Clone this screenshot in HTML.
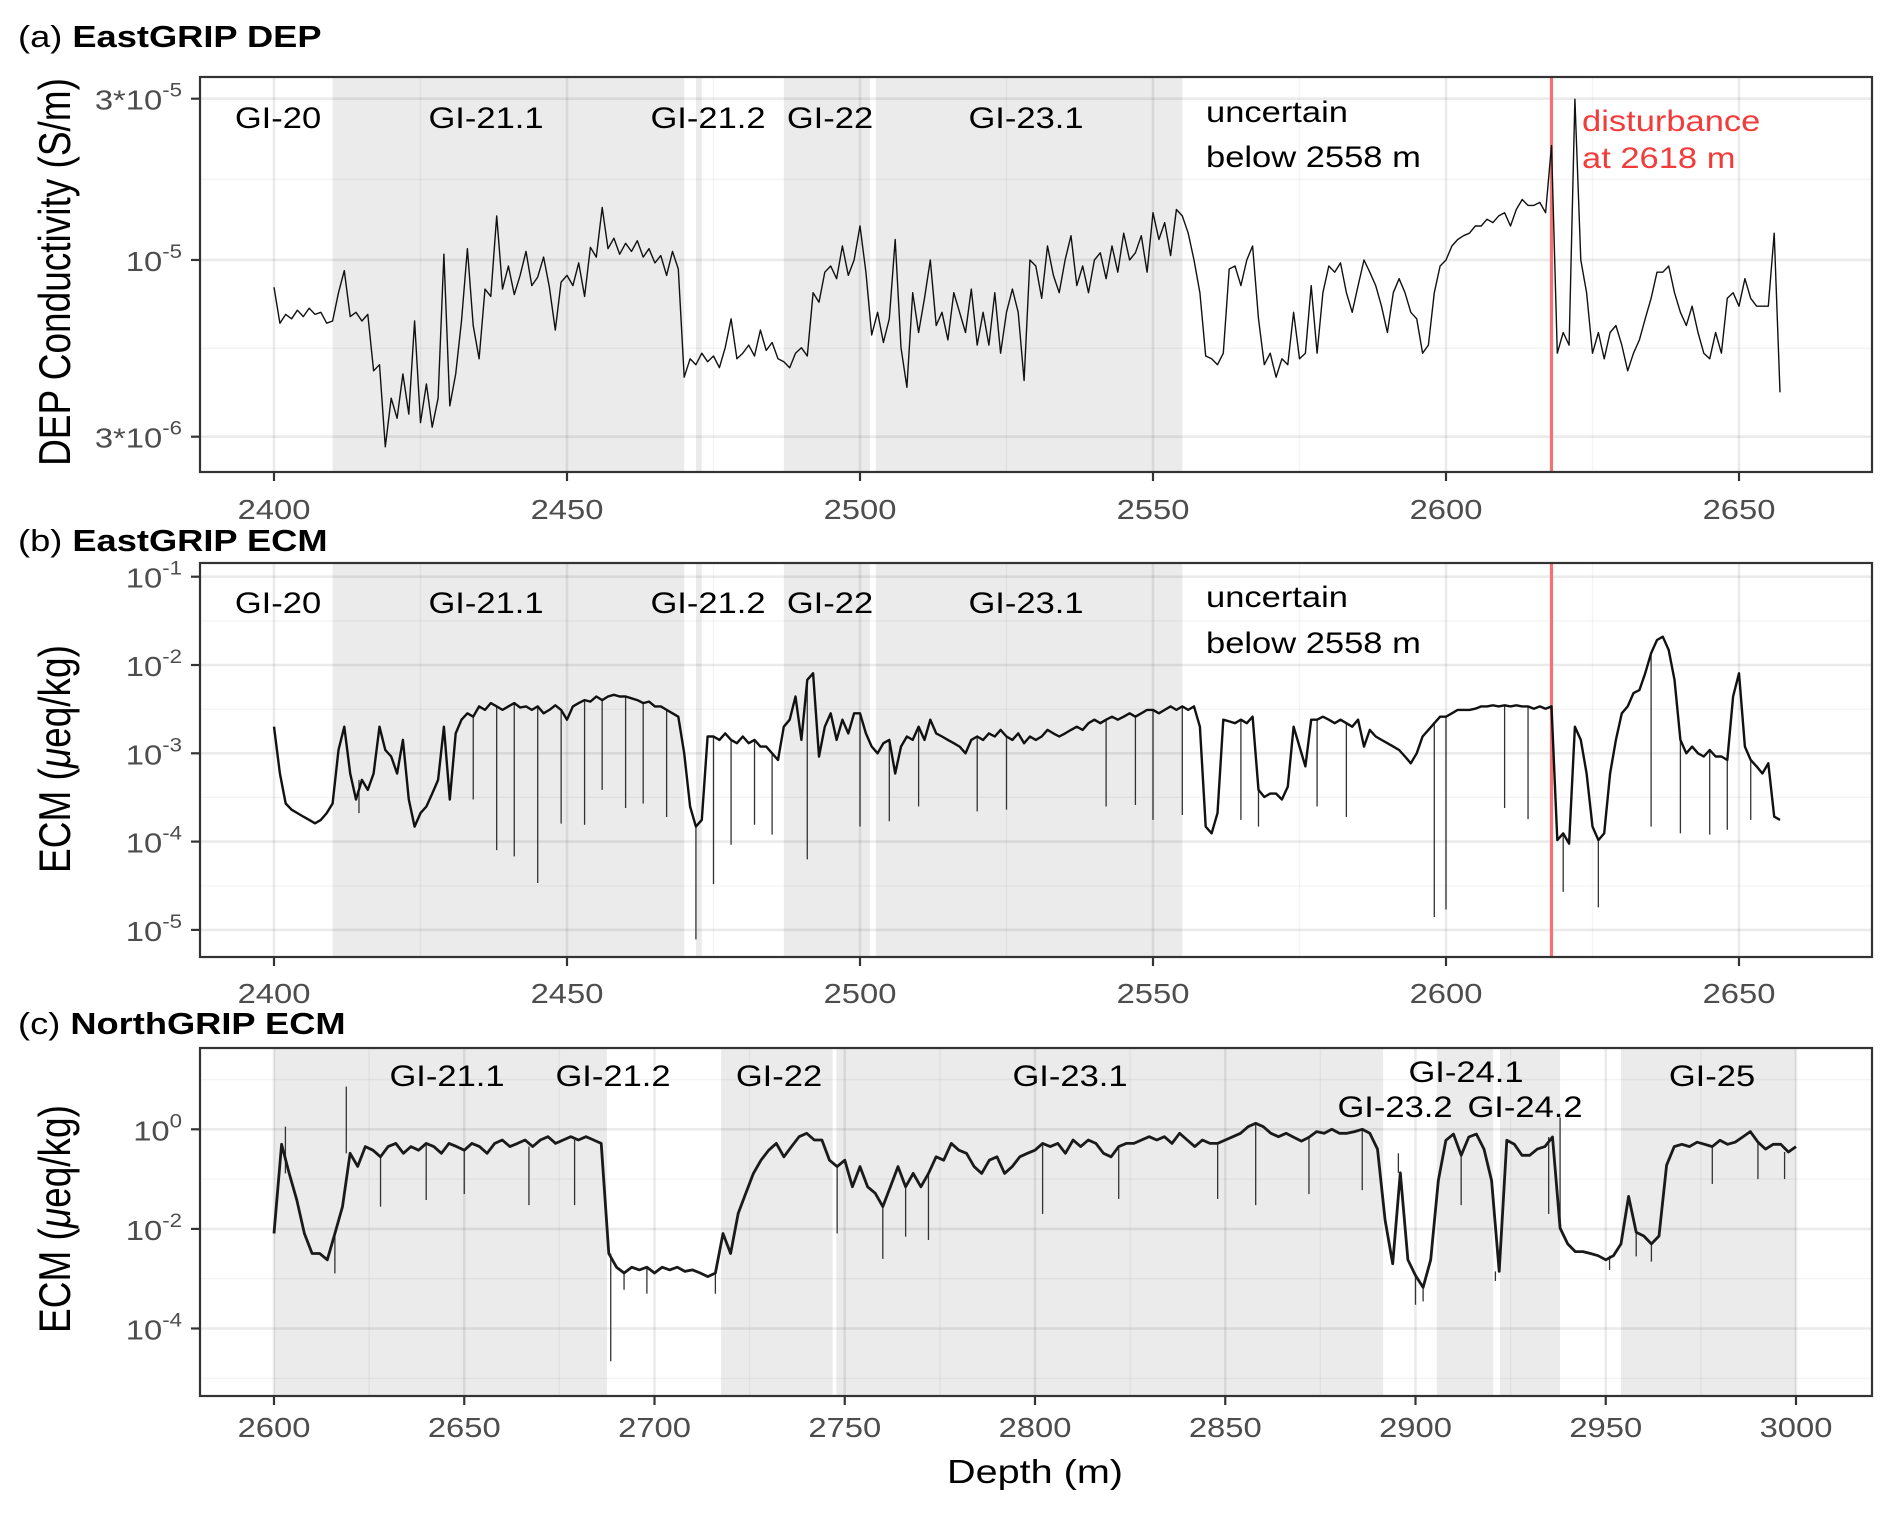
<!DOCTYPE html>
<html><head><meta charset="utf-8">
<style>
html,body{margin:0;padding:0;background:#fff;}
svg{display:block;font-family:"Liberation Sans",Arial,sans-serif;}
</style></head>
<body>
<svg id="fig" width="1892" height="1513" viewBox="0 0 1892 1513" xmlns="http://www.w3.org/2000/svg"></svg>
<script>
// ---------------- DATA ----------------
// Panel (a) EastGRIP DEP conductivity, units 1e-6 S/m, 1 m steps from 2400 m
const depStart = 2400;
const depStep = 1;
const depValues = [
8.3,6.5,6.9,6.7,7.1,6.8,7.2,6.9,7.0,6.5,
6.6,8.0,9.3,6.8,7.0,6.6,6.9,4.7,4.9,2.8,
3.9,3.4,4.6,3.5,6.6,3.3,4.3,3.2,3.9,10.4,
3.7,4.6,6.6,10.8,6.4,5.1,8.2,7.8,13.5,8.2,
9.6,7.9,9.0,10.6,8.4,8.9,10.2,8.3,6.2,8.6,
9.0,8.4,9.8,7.8,10.9,10.2,14.3,10.8,11.6,10.4,
11.2,10.6,11.4,10.2,10.8,9.8,10.3,9.0,10.6,9.4,
4.5,5.1,4.9,5.3,5.0,5.2,4.8,5.5,6.7,5.1,
5.3,5.6,5.2,6.2,5.4,5.7,5.1,5.0,4.8,5.3,
5.5,5.2,8.0,7.5,9.2,9.6,8.8,11.0,9.0,10.0,
12.6,9.2,6.0,7.0,5.7,6.7,11.5,5.5,4.2,8.0,
6.1,7.7,10.0,6.4,7.0,5.8,8.0,7.0,6.1,8.2,
5.6,7.0,5.6,8.0,5.3,7.0,8.2,7.0,4.4,10.0,
9.6,7.7,11.0,9.0,8.0,10.0,11.8,8.4,9.6,8.0,
10.0,10.5,8.8,11.0,9.2,12.0,10.0,10.5,11.8,9.2,
13.8,11.5,12.9,10.3,14.1,13.5,12.0,10.0,8.0,5.2,
5.1,4.9,5.3,9.4,9.6,8.4,10.0,11.0,6.7,4.9,
5.3,4.5,5.1,4.9,7.0,5.1,5.3,8.4,5.3,8.0,
9.6,9.2,9.8,8.0,7.0,8.4,10.0,9.2,8.4,7.3,
6.1,8.0,8.8,8.0,7.0,6.7,5.3,5.6,8.0,9.6,
10.0,11.0,11.5,11.8,12.0,12.6,12.6,13.2,12.9,13.5,
13.8,12.6,14.1,15.1,14.5,14.5,14.8,13.8,21.8,5.3,
6.1,5.6,29.9,10.0,8.0,5.3,6.1,5.1,6.1,6.4,
5.6,4.7,5.3,5.8,6.7,7.7,9.2,9.2,9.6,8.0,
7.0,6.4,7.3,6.1,5.3,5.1,6.1,5.3,7.7,8.0,
7.3,8.8,7.7,7.3,7.3,7.3,12.0,4.06
];
// Panel (b) EastGRIP ECM, μeq/kg, 1 m steps from 2400 m
const ecmEStart = 2400;
const ecmEStep = 1;
const ecmEValues = [
2.0e-3,5.9e-4,2.7e-4,2.3e-4,2.1e-4,1.92e-4,1.76e-4,1.61e-4,1.76e-4,2.1e-4,
2.7e-4,1.09e-3,2.0e-3,5.9e-4,3.0e-4,5.0e-4,3.85e-4,5.9e-4,2.0e-3,1.09e-3,
9.2e-4,5.9e-4,1.42e-3,3.0e-4,1.48e-4,2.1e-4,2.5e-4,3.5e-4,5.0e-4,2.0e-3,
3.0e-4,1.68e-3,2.4e-3,2.84e-3,2.6e-3,3.4e-3,3.1e-3,3.7e-3,3.4e-3,3.1e-3,
3.4e-3,3.7e-3,3.3e-3,3.4e-3,3.1e-3,3.4e-3,2.84e-3,3.1e-3,3.5e-3,3.1e-3,
2.4e-3,3.4e-3,3.7e-3,4.0e-3,3.85e-3,4.4e-3,4.0e-3,4.4e-3,4.6e-3,4.4e-3,
4.4e-3,4.2e-3,4.0e-3,3.7e-3,3.85e-3,3.4e-3,3.4e-3,3.1e-3,2.84e-3,2.6e-3,
1.0e-3,2.5e-4,1.48e-4,1.76e-4,1.55e-3,1.55e-3,1.42e-3,1.68e-3,1.42e-3,1.3e-3,
1.55e-3,1.3e-3,1.42e-3,1.19e-3,1.19e-3,1.0e-3,8.4e-4,2.0e-3,2.4e-3,4.4e-3,
1.42e-3,6.8e-3,8.05e-3,9.2e-4,2.0e-3,2.84e-3,1.42e-3,2.4e-3,1.68e-3,2.84e-3,
2.84e-3,1.68e-3,1.19e-3,1.0e-3,1.3e-3,1.42e-3,5.9e-4,1.19e-3,1.55e-3,1.42e-3,
2.0e-3,1.42e-3,2.4e-3,1.68e-3,1.55e-3,1.42e-3,1.3e-3,1.19e-3,1.0e-3,1.42e-3,
1.55e-3,1.42e-3,1.68e-3,1.55e-3,1.84e-3,1.55e-3,1.42e-3,1.68e-3,1.3e-3,1.55e-3,
1.42e-3,1.55e-3,1.84e-3,1.68e-3,1.55e-3,1.68e-3,1.84e-3,2.0e-3,1.84e-3,2.19e-3,
2.4e-3,2.19e-3,2.4e-3,2.6e-3,2.4e-3,2.6e-3,2.84e-3,2.6e-3,2.84e-3,3.1e-3,
3.1e-3,2.84e-3,3.1e-3,3.4e-3,3.1e-3,3.4e-3,3.1e-3,3.4e-3,2.0e-3,1.48e-4,
1.24e-4,2.1e-4,2.4e-3,2.3e-3,2.19e-3,2.4e-3,2.19e-3,2.6e-3,3.85e-4,3.2e-4,
3.5e-4,3.5e-4,3.0e-4,4.2e-4,2.0e-3,1.19e-3,7.1e-4,2.4e-3,2.4e-3,2.6e-3,
2.4e-3,2.19e-3,2.4e-3,2.19e-3,2.0e-3,2.4e-3,1.19e-3,1.84e-3,1.55e-3,1.42e-3,
1.3e-3,1.19e-3,1.09e-3,9.2e-4,7.7e-4,1.0e-3,1.55e-3,1.84e-3,2.19e-3,2.6e-3,
2.6e-3,2.84e-3,3.1e-3,3.1e-3,3.1e-3,3.2e-3,3.4e-3,3.4e-3,3.5e-3,3.4e-3,
3.5e-3,3.4e-3,3.5e-3,3.4e-3,3.4e-3,3.2e-3,3.4e-3,3.2e-3,3.4e-3,1.04e-4,
1.24e-4,9.5e-5,2.0e-3,1.42e-3,5.9e-4,1.48e-4,1.04e-4,1.24e-4,5.9e-4,1.42e-3,
2.84e-3,3.4e-3,4.8e-3,5.2e-3,8.05e-3,1.36e-2,1.92e-2,2.09e-2,1.48e-2,6.8e-3,
1.42e-3,1.0e-3,1.19e-3,1.0e-3,9.2e-4,1.09e-3,9.2e-4,9.2e-4,8.4e-4,4.4e-3,
8.05e-3,1.19e-3,8.4e-4,7.1e-4,5.9e-4,7.7e-4,1.92e-4,1.76e-4
];
const ecmESpikeDepths = [2414.5,2434,2438,2441,2445,2449,2453,2456,2460,2463,2467,2472,2475,2478,2482,2485,2491,2500,2505,2510,2520,2525,2542,2547,2550,2555,2565,2568,2578,2583,2598,2600,2610,2614,2620,2626,2635,2640,2645,2648,2652];
const ecmESpikeValues = [2.1e-4,3.0e-4,8.0e-5,6.8e-5,3.4e-5,1.6e-4,1.55e-4,3.85e-4,2.4e-4,2.7e-4,1.9e-4,7.8e-6,3.3e-5,9.2e-5,1.55e-4,1.2e-4,6.3e-5,1.48e-4,1.7e-4,2.5e-4,2.2e-4,2.3e-4,2.5e-4,2.6e-4,1.76e-4,2.0e-4,1.76e-4,1.48e-4,2.5e-4,1.9e-4,1.4e-5,1.7e-5,2.4e-4,1.8e-4,2.7e-5,1.8e-5,1.48e-4,1.24e-4,1.2e-4,1.36e-4,1.76e-4];
// Panel (c) NorthGRIP ECM, μeq/kg, 2 m steps from 2600 m
const ecmNStart = 2600;
const ecmNStep = 2;
const ecmNValues = [
0.0081,0.5,0.13,0.038,0.0081,0.0032,0.0032,0.0024,0.0081,0.028,
0.33,0.18,0.45,0.38,0.28,0.45,0.52,0.33,0.45,0.38,
0.52,0.45,0.33,0.52,0.45,0.38,0.52,0.45,0.33,0.52,
0.61,0.45,0.52,0.61,0.45,0.61,0.71,0.52,0.61,0.71,
0.61,0.71,0.61,0.52,0.0032,0.0017,0.0013,0.0017,0.0015,0.0017,
0.0013,0.0017,0.0015,0.0017,0.0014,0.0015,0.0013,0.0011,0.0013,0.0081,
0.0032,0.0205,0.052,0.13,0.24,0.38,0.52,0.28,0.45,0.71,
0.83,0.61,0.61,0.24,0.178,0.24,0.07,0.178,0.07,0.052,
0.028,0.07,0.178,0.07,0.13,0.07,0.13,0.28,0.24,0.52,
0.38,0.33,0.178,0.13,0.24,0.28,0.13,0.178,0.28,0.33,
0.38,0.52,0.45,0.52,0.33,0.61,0.45,0.61,0.52,0.33,
0.28,0.45,0.52,0.52,0.61,0.71,0.61,0.71,0.52,0.83,
0.61,0.45,0.61,0.52,0.52,0.61,0.71,0.83,1.13,1.32,
1.13,0.83,0.71,0.83,0.69,0.58,0.69,0.9,0.83,1.0,
0.83,0.83,0.9,1.0,0.83,0.4,0.015,0.002,0.134,0.0024,
0.00116,0.00067,0.0024,0.093,0.6,0.8,0.3,0.7,0.8,0.4,
0.093,0.0014,0.6,0.5,0.3,0.3,0.4,0.45,0.7,0.0104,
0.005,0.0035,0.0035,0.0032,0.0029,0.0024,0.0029,0.005,0.045,0.0086,
0.0072,0.005,0.0072,0.19,0.45,0.5,0.45,0.55,0.5,0.45,
0.6,0.5,0.55,0.7,0.9,0.55,0.4,0.5,0.5,0.35,
0.45
];
const ecmNSpikeDepths = [2603,2616,2619,2628,2640,2650,2667,2679,2688.5,2692,2698,2716,2748,2760,2766,2772,2802,2822,2848,2858,2872,2886,2895.5,2900,2902,2912,2921,2935,2938,2951,2958,2962,2978,2990,2997];
const ecmNSpikeValues = [1.13,0.00128,7.2,0.028,0.038,0.05,0.03,0.03,2.2e-5,0.0006,0.0005,0.0005,0.0081,0.0025,0.007,0.006,0.02,0.04,0.04,0.03,0.05,0.06,0.33,0.0003,0.00035,0.03,0.0009,0.02,1.73,0.0015,0.0028,0.0022,0.08,0.1,0.1];

// Axis tick definitions
const xTicksAB = [2400,2450,2500,2550,2600,2650];
const xTicksC = [2600,2650,2700,2750,2800,2850,2900,2950,3000];
const yTicksA = [3e-5,1e-5,3e-6];
const yTickLabelsA = [["3*10","-5"],["10","-5"],["3*10","-6"]];
const yTicksB = [1e-1,1e-2,1e-3,1e-4,1e-5];
const yTickLabelsB = [["10","-1"],["10","-2"],["10","-3"],["10","-4"],["10","-5"]];
const yTicksC = [1,1e-2,1e-4];
const yTickLabelsC = [["10","0"],["10","-2"],["10","-4"]];
const shadesAB = [[2410,2470],[2472,2473],[2487,2501.7],[2502.7,2555]];
const shadesC = [[2600,2687.5],[2717.5,2746.8],[2747.8,2891.5],[2905.6,2920.4],[2922.2,2938],[2954,3000]];
const disturbanceDepth = 2618;

// ---------------- SCALES ----------------
const NS = "http://www.w3.org/2000/svg";
const SX = 1.17;
const svg = document.getElementById('fig');
const L = 200, R = 1872;
const panels = {
  a: {T:77, B:472, x:d=>274+(d-2400)*5.86, y:v=>98.7+(Math.log10(3e-5)-Math.log10(v))*338},
  b: {T:563, B:957, x:d=>274+(d-2400)*5.86, y:v=>576.7+(-1-Math.log10(v))*88.3},
  c: {T:1048, B:1396, x:d=>274+(d-2600)*3.805, y:v=>1129.3-Math.log10(v)*49.8}
};

function el(parent, tag, attrs){
  const e = document.createElementNS(NS, tag);
  for (const k in attrs) e.setAttribute(k, attrs[k]);
  parent.appendChild(e);
  return e;
}
function txt(parent, x, y, content, size, anchor, fill, weight){
  const t = el(parent, 'text', {transform:`translate(${x},${y}) scale(${SX},1)`, 'font-size':size, 'text-anchor':anchor, fill:fill, 'font-weight':weight||'normal'});
  t.textContent = content;
  return t;
}
function powLabel(parent, xr, y, base, exp){
  const t = el(parent, 'text', {transform:`translate(${xr},${y}) scale(${SX},1)`, 'font-size':28, 'text-anchor':'end', fill:'#4d4d4d'});
  const b = el(t, 'tspan', {});
  b.textContent = base;
  const s = el(t, 'tspan', {'font-size':19, dy:-13});
  s.textContent = exp;
  return t;
}

function drawPanel(key, shades, xTicks, minorX, yTicks, yLabels, yMinor){
  const p = panels[key];
  const g = el(svg, 'g', {});
  
  
  const clipId = 'clip-' + key;
  const cp = el(svg, 'clipPath', {id: clipId});
  el(cp, 'rect', {x:L, y:p.T, width:R-L, height:p.B-p.T});
  const inner = el(g, 'g', {'clip-path':`url(#${clipId})`});
  
  
  shades.forEach(s=>{
    const r = el(inner, 'rect', {x:p.x(s[0]), y:p.T, width:p.x(s[1])-p.x(s[0]), height:p.B-p.T, fill:'#ebebeb'});
    
    
  });
  minorX.forEach(d=>{
    const ln = el(inner, 'line', {x1:p.x(d), x2:p.x(d), y1:p.T, y2:p.B, stroke:'rgba(0,0,0,0.045)', 'stroke-width':1.4});
    
    
  });
  yMinor.forEach(v=>{
    const ln = el(inner, 'line', {x1:L, x2:R, y1:p.y(v), y2:p.y(v), stroke:'rgba(0,0,0,0.045)', 'stroke-width':1.4});
    
    
  });
  xTicks.forEach(d=>{
    const ln = el(inner, 'line', {x1:p.x(d), x2:p.x(d), y1:p.T, y2:p.B, stroke:'rgba(0,0,0,0.08)', 'stroke-width':2.6});
    
    
  });
  yTicks.forEach(v=>{
    const ln = el(inner, 'line', {x1:L, x2:R, y1:p.y(v), y2:p.y(v), stroke:'rgba(0,0,0,0.08)', 'stroke-width':2.6});
    
    
  });
  const labelY = {a:519, b:1003, c:1437}[key];
  xTicks.forEach(d=>{
    const tk = el(g, 'line', {x1:p.x(d), x2:p.x(d), y1:p.B, y2:p.B+9, stroke:'#333', 'stroke-width':2.2});
    
    
    const t = txt(g, p.x(d), labelY, String(d), 28, 'middle', '#4d4d4d');
    
    
  });
  yTicks.forEach((v,i)=>{
    const tk = el(g, 'line', {x1:L-9, x2:L, y1:p.y(v), y2:p.y(v), stroke:'#333', 'stroke-width':2.2});
    
    
    const t = powLabel(g, 182, p.y(v)+11, yLabels[i][0], yLabels[i][1]);
    
    
  });
  return {g, inner, p};
}

function seriesPath(p, start, step, vals){
  let d = '';
  vals.forEach((v,i)=>{ d += (i? 'L':'M') + p.x(start+i*step).toFixed(1) + ' ' + p.y(v).toFixed(1); });
  return d;
}
function drawSpikes(parent, p, start, step, vals, sd, sv, w){
  sd.forEach((d,i)=>{
    const idx = Math.max(0, Math.min(vals.length-1, Math.round((d-start)/step)));
    const ln = el(parent, 'line', {x1:p.x(d), x2:p.x(d), y1:p.y(vals[idx]), y2:p.y(sv[i]), stroke:'#333', 'stroke-width':w});
    
    
  });
}
function border(g, p){
  const b = el(g, 'rect', {x:L, y:p.T, width:R-L, height:p.B-p.T, fill:'none', stroke:'#333', 'stroke-width':2.2});
  
  
}
function redLine(parent, p){
  const ln = el(parent, 'line', {x1:p.x(disturbanceDepth), x2:p.x(disturbanceDepth), y1:p.T, y2:p.B, stroke:'#f37272', 'stroke-width':3.2});
  
  
}
function label(parent, x, y, s, fill, name, anchor){
  const t = txt(parent, x, y, s, 29.5, anchor||'middle', fill||'#000');
  
  
}

// ---------- Panel A ----------
const A = drawPanel('a', shadesAB, xTicksAB, [2425,2475,2525,2575,2625], yTicksA, yTickLabelsA, [1.73e-5, 5.48e-6]);
redLine(A.inner, A.p);
const pathA = el(A.inner, 'path', {d:seriesPath(A.p, depStart, depStep, depValues.map(v=>v*1e-6)), fill:'none', stroke:'#111', 'stroke-width':1.4, 'stroke-linejoin':'round'});


border(A.g, A.p);
label(A.g, 278, 128, 'GI-20', '#000', 'label-gi-20');
label(A.g, 486, 128, 'GI-21.1', '#000', 'label-gi-21-1');
label(A.g, 708, 128, 'GI-21.2', '#000', 'label-gi-21-2');
label(A.g, 830, 128, 'GI-22', '#000', 'label-gi-22');
label(A.g, 1026, 128, 'GI-23.1', '#000', 'label-gi-23-1');
label(A.g, 1206, 122, 'uncertain', '#000', 'label-uncertain', 'start');
label(A.g, 1206, 167, 'below 2558 m', '#000', 'label-below-2558', 'start');
label(A.g, 1582, 131, 'disturbance', '#f23c3c', 'label-disturbance', 'start');
label(A.g, 1582, 168, 'at 2618 m', '#f23c3c', 'label-at-2618', 'start');

// ---------- Panel B ----------
const B = drawPanel('b', shadesAB, xTicksAB, [2425,2475,2525,2575,2625], yTicksB, yTickLabelsB, [3.16e-2,3.16e-3,3.16e-4,3.16e-5]);
redLine(B.inner, B.p);
drawSpikes(B.inner, B.p, ecmEStart, ecmEStep, ecmEValues, ecmESpikeDepths, ecmESpikeValues, 1.3);
const pathB = el(B.inner, 'path', {d:seriesPath(B.p, ecmEStart, ecmEStep, ecmEValues), fill:'none', stroke:'#111', 'stroke-width':2.4, 'stroke-linejoin':'round'});


border(B.g, B.p);
label(B.g, 278, 613, 'GI-20', '#000', 'label-gi-20');
label(B.g, 486, 613, 'GI-21.1', '#000', 'label-gi-21-1');
label(B.g, 708, 613, 'GI-21.2', '#000', 'label-gi-21-2');
label(B.g, 830, 613, 'GI-22', '#000', 'label-gi-22');
label(B.g, 1026, 613, 'GI-23.1', '#000', 'label-gi-23-1');
label(B.g, 1206, 607, 'uncertain', '#000', 'label-uncertain', 'start');
label(B.g, 1206, 653, 'below 2558 m', '#000', 'label-below-2558', 'start');

// ---------- Panel C ----------
const C = drawPanel('c', shadesC, xTicksC, [2625,2675,2725,2775,2825,2875,2925,2975], yTicksC, yTickLabelsC, [10,0.1,1e-3,1e-5]);
drawSpikes(C.inner, C.p, ecmNStart, ecmNStep, ecmNValues, ecmNSpikeDepths, ecmNSpikeValues, 1.3);
const pathC = el(C.inner, 'path', {d:seriesPath(C.p, ecmNStart, ecmNStep, ecmNValues), fill:'none', stroke:'#1a1a1a', 'stroke-width':2.8, 'stroke-linejoin':'round'});


border(C.g, C.p);
label(C.g, 447, 1086, 'GI-21.1', '#000', 'label-gi-21-1');
label(C.g, 613, 1086, 'GI-21.2', '#000', 'label-gi-21-2');
label(C.g, 779, 1086, 'GI-22', '#000', 'label-gi-22');
label(C.g, 1070, 1086, 'GI-23.1', '#000', 'label-gi-23-1');
label(C.g, 1466, 1082, 'GI-24.1', '#000', 'label-gi-24-1');
label(C.g, 1395, 1117, 'GI-23.2', '#000', 'label-gi-23-2');
label(C.g, 1525, 1117, 'GI-24.2', '#000', 'label-gi-24-2');
label(C.g, 1712, 1086, 'GI-25', '#000', 'label-gi-25');

// ---------- Titles ----------
function panelTitle(y, letter, bold, name){
  const t = el(svg, 'text', {transform:`translate(18,${y}) scale(${SX},1)`, 'font-size':31, fill:'#000'});
  const a = el(t, 'tspan', {});
  a.textContent = letter + ' ';
  const b = el(t, 'tspan', {'font-weight':'bold'});
  b.textContent = bold;
  
  
}
panelTitle(47, '(a)', 'EastGRIP DEP', 'title-a');
panelTitle(551, '(b)', 'EastGRIP ECM', 'title-b');
panelTitle(1034, '(c)', 'NorthGRIP ECM', 'title-c');

function yTitle(cy, parts, name){
  const t = el(svg, 'text', {transform:`translate(70,${cy}) scale(1.2,1) rotate(-90)`, 'font-size':37, 'text-anchor':'middle', fill:'#000'});
  parts.forEach(pp=>{
    const s = el(t, 'tspan', pp[1] ? {'font-style':'italic'} : {});
    s.textContent = pp[0];
  });
  
  
}
yTitle(272, [['DEP Conductivity (S/m)',false]], 'y-axis-title-a');
yTitle(759, [['ECM (',false],['μ',true],['eq/kg)',false]], 'y-axis-title-b');
yTitle(1219, [['ECM (',false],['μ',true],['eq/kg)',false]], 'y-axis-title-c');

const xt = el(svg, 'text', {transform:`translate(1035,1483) scale(1.2,1)`, 'font-size':33, 'text-anchor':'middle', fill:'#000'});
xt.textContent = 'Depth (m)';


</script>
</body></html>
